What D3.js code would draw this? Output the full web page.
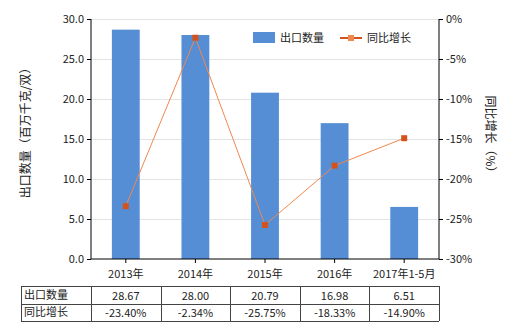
<!DOCTYPE html>
<html>
<head>
<meta charset="utf-8">
<script src="https://cdn.jsdelivr.net/npm/d3@7"></script>
<style>
  body { margin: 0; background: #fff; }
  svg text { font-family: "Noto Sans CJK SC", "Noto Sans", sans-serif; fill: #222; }
</style>
</head>
<body>
<div id="chart"></div>
<script>
// data
const categories = ["2013年", "2014年", "2015年", "2016年", "2017年1-5月"]
const exportQty = [28.67, 28.00, 20.79, 16.98, 6.51]
const yoyGrowth = [-23.40, -2.34, -25.75, -18.33, -14.90]
const leftTicks = [0, 5, 10, 15, 20, 25, 30]
const rightTicks = [-30, -25, -20, -15, -10, -5, 0]
const seriesNames = ["出口数量", "同比增长"]

const barColor = "#558ed5",
      lineColor = "#f0884f",
      markColor = "#d4531c"

const w = 520, h = 330
const margin = {top: 19, left: 91, right: 439, bottom: 259}

const svg = d3.select("#chart").append("svg")
  .attr("width", w)
  .attr("height", h)

const x = d3.scaleBand()
  .domain(categories)
  .range([margin.left, margin.right])
  .paddingInner(0.6)
  .paddingOuter(0.3)

const yL = d3.scaleLinear().domain([0, 30]).range([margin.bottom, margin.top])
const yR = d3.scaleLinear().domain([-30, 0]).range([margin.bottom, margin.top])

// gridlines
svg.append("g")
  .selectAll("line")
  .data(leftTicks.slice(1))
  .join("line")
  .attr("x1", margin.left)
  .attr("x2", margin.right)
  .attr("y1", d => yL(d) + 0.5)
  .attr("y2", d => yL(d) + 0.5)
  .attr("stroke", "#e3e3e3")
  .attr("stroke-width", 1)

// bars
svg.append("g")
  .selectAll("rect")
  .data(exportQty)
  .join("rect")
  .attr("x", (d, i) => x(categories[i]))
  .attr("y", d => yL(d))
  .attr("width", x.bandwidth())
  .attr("height", d => yL(0) - yL(d))
  .attr("fill", barColor)

// line
const cx = (d, i) => x(categories[i]) + x.bandwidth() / 2
svg.append("path")
  .datum(yoyGrowth)
  .attr("fill", "none")
  .attr("stroke", lineColor)
  .attr("stroke-width", 1)
  .attr("d", d3.line().x(cx).y(d => yR(d)))

svg.append("g")
  .selectAll("rect")
  .data(yoyGrowth)
  .join("rect")
  .attr("x", (d, i) => cx(d, i) - 3)
  .attr("y", d => yR(d) - 3)
  .attr("width", 6)
  .attr("height", 6)
  .attr("fill", markColor)

// axes
const axL = svg.append("g")
  .attr("transform", `translate(${margin.left},0)`)
  .call(d3.axisLeft(yL).tickValues(leftTicks).tickFormat(d3.format(".1f")).tickSize(4))
const axR = svg.append("g")
  .attr("transform", `translate(${margin.right},0)`)
  .call(d3.axisRight(yR).tickValues(rightTicks).tickFormat(d => d + "%").tickSize(4))
const axB = svg.append("g")
  .attr("transform", `translate(0,${margin.bottom})`)
  .call(d3.axisBottom(x).tickSize(4))

;[axL, axR, axB].forEach(a => {
  a.selectAll("path, line").attr("stroke", "#000")
  a.selectAll("text").attr("font-size", 11).attr("fill", "#222")
})
axL.select(".domain").attr("d", `M-0,${margin.top}V${margin.bottom}`)
axR.select(".domain").attr("d", `M0,${margin.top}V${margin.bottom}`)
axB.select(".domain").attr("d", `M${margin.left},0H${margin.right}`)
axB.selectAll("text").attr("dy", "1.1em")

// axis titles
svg.append("text")
  .attr("transform", "translate(30,130) rotate(-90)")
  .attr("text-anchor", "middle")
  .attr("font-size", 12)
  .text("出口数量（百万千克/双）")

svg.append("text")
  .attr("transform", "translate(486,137) rotate(90)")
  .attr("text-anchor", "middle")
  .attr("font-size", 12)
  .text("同比增长（%）")

// legend
svg.append("rect")
  .attr("x", 253).attr("y", 32)
  .attr("width", 22).attr("height", 11)
  .attr("fill", barColor)
svg.append("text")
  .attr("x", 280).attr("y", 42)
  .attr("font-size", 11)
  .text(seriesNames[0])
svg.append("line")
  .attr("x1", 340).attr("x2", 362)
  .attr("y1", 38).attr("y2", 38)
  .attr("stroke", markColor).attr("stroke-width", 2)
svg.append("rect")
  .attr("x", 348).attr("y", 35)
  .attr("width", 6).attr("height", 6)
  .attr("fill", lineColor)
svg.append("text")
  .attr("x", 367).attr("y", 42)
  .attr("font-size", 11)
  .text(seriesNames[1])

// data table
const tTop = 286, rowH = 17.5, tLeft = 21
const table = svg.append("g")
const rows = [
  {name: seriesNames[0], vals: exportQty.map(d => d.toFixed(2))},
  {name: seriesNames[1], vals: yoyGrowth.map(d => d.toFixed(2) + "%")}
]
const step = x.step()
const colEdges = [tLeft, margin.left].concat(categories.map((c, i) => margin.left + step * (i + 1)))

rows.forEach((r, ri) => {
  const yy = tTop + ri * rowH
  table.append("text")
    .attr("x", tLeft + 3)
    .attr("y", yy + rowH / 2 + 4)
    .attr("font-size", 11)
    .text(r.name)
  r.vals.forEach((v, i) => {
    table.append("text")
      .attr("x", cx(null, i))
      .attr("y", yy + rowH / 2 + 5)
      .attr("text-anchor", "middle")
      .attr("font-size", 11)
      .text(v)
  })
})

// grid lines of table
for (let ri = 0; ri <= rows.length; ri++) {
  table.append("line")
    .attr("x1", tLeft).attr("x2", margin.right)
    .attr("y1", Math.round(tTop + ri * rowH) + 0.5)
    .attr("y2", Math.round(tTop + ri * rowH) + 0.5)
    .attr("stroke", "#444")
}
colEdges.forEach(e => {
  table.append("line")
    .attr("x1", Math.round(e) + 0.5).attr("x2", Math.round(e) + 0.5)
    .attr("y1", tTop).attr("y2", tTop + rowH * rows.length)
    .attr("stroke", "#444")
})
</script>
</body>
</html>
